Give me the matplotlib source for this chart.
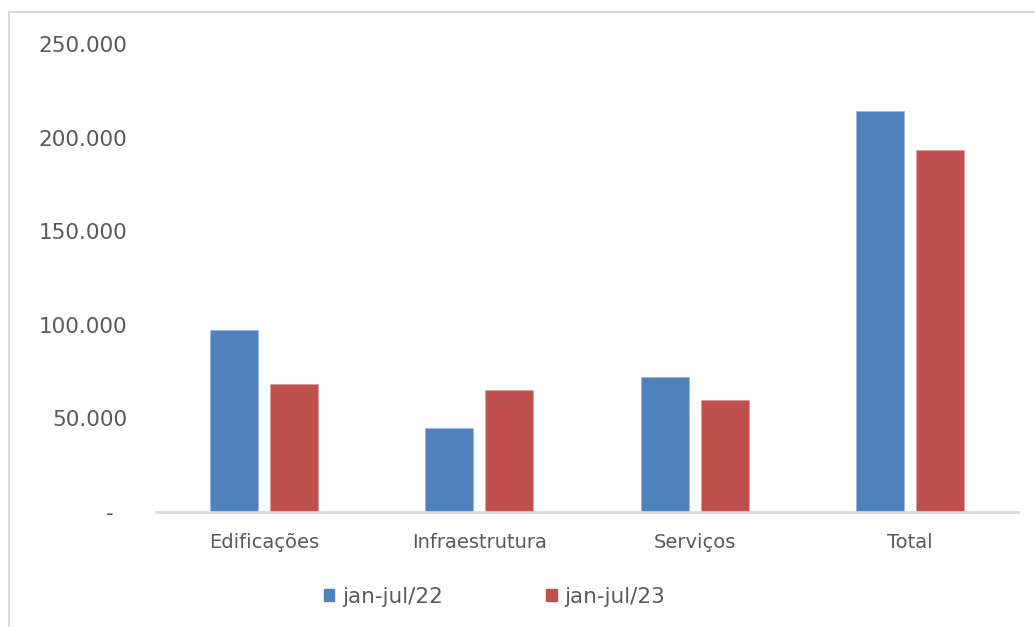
import numpy as np
import matplotlib.pyplot as plt
from matplotlib.patches import Rectangle, Patch
from matplotlib.ticker import FuncFormatter

plt.rcParams['font.family'] = ['DejaVu Sans']

categories = ['Edificações', 'Infraestrutura', 'Serviços', 'Total']
series_names = ['jan-jul/22', 'jan-jul/23']
values_22 = [97200, 45000, 72100, 214300]
values_23 = [68400, 65300, 59700, 193400]
yticks = [0, 50000, 100000, 150000, 200000, 250000]

blue = '#4F81BD'
red = '#C0504D'
text_color = '#595959'

fig = plt.figure(figsize=(10.35, 6.27), dpi=100)
ax = fig.add_axes([0.1512, 0.1834, 0.8319, 0.7464])

x = np.arange(len(categories))
width = 0.223
gap = 0.056
ax.bar(x - (width + gap) / 2, values_22, width, color=blue, edgecolor='#9DB9DE', linewidth=0.6)
ax.bar(x + (width + gap) / 2, values_23, width, color=red, edgecolor='#E0A09E', linewidth=0.6)

ax.set_xlim(-0.5, len(categories) - 0.5)
ax.set_ylim(0, 250000)
ax.set_yticks(yticks)

def fmt(v, pos):
    if v == 0:
        return '-  '
    return f'{int(v):,}'.replace(',', '.')

ax.yaxis.set_major_formatter(FuncFormatter(fmt))
ax.set_xticks(x)
ax.set_xticklabels(categories)
ax.tick_params(axis='both', length=0, colors=text_color)
ax.tick_params(axis='y', pad=21, labelsize=15.5)
ax.tick_params(axis='x', pad=15, labelsize=14)

for s in ['top', 'right', 'left']:
    ax.spines[s].set_visible(False)
ax.spines['bottom'].set_color('#D9D9D9')
ax.spines['bottom'].set_linewidth(2)

# outer chart frame
fig.patches.append(Rectangle((9 / 1035, -0.1), 1.2, 1 - 12 / 627 + 0.1,
                             transform=fig.transFigure, fill=False,
                             edgecolor='#D9D9D9', linewidth=1.5))

handles = [Patch(color=blue), Patch(color=red)]
fig.legend(handles, series_names, loc='center', bbox_to_anchor=(0.478, 1 - 597 / 627),
           ncol=2, frameon=False, fontsize=15.5, labelcolor=text_color,
           handlelength=0.47, handleheight=0.47, handletextpad=0.37, columnspacing=4.8)

fig.savefig('out.png', dpi=100)
